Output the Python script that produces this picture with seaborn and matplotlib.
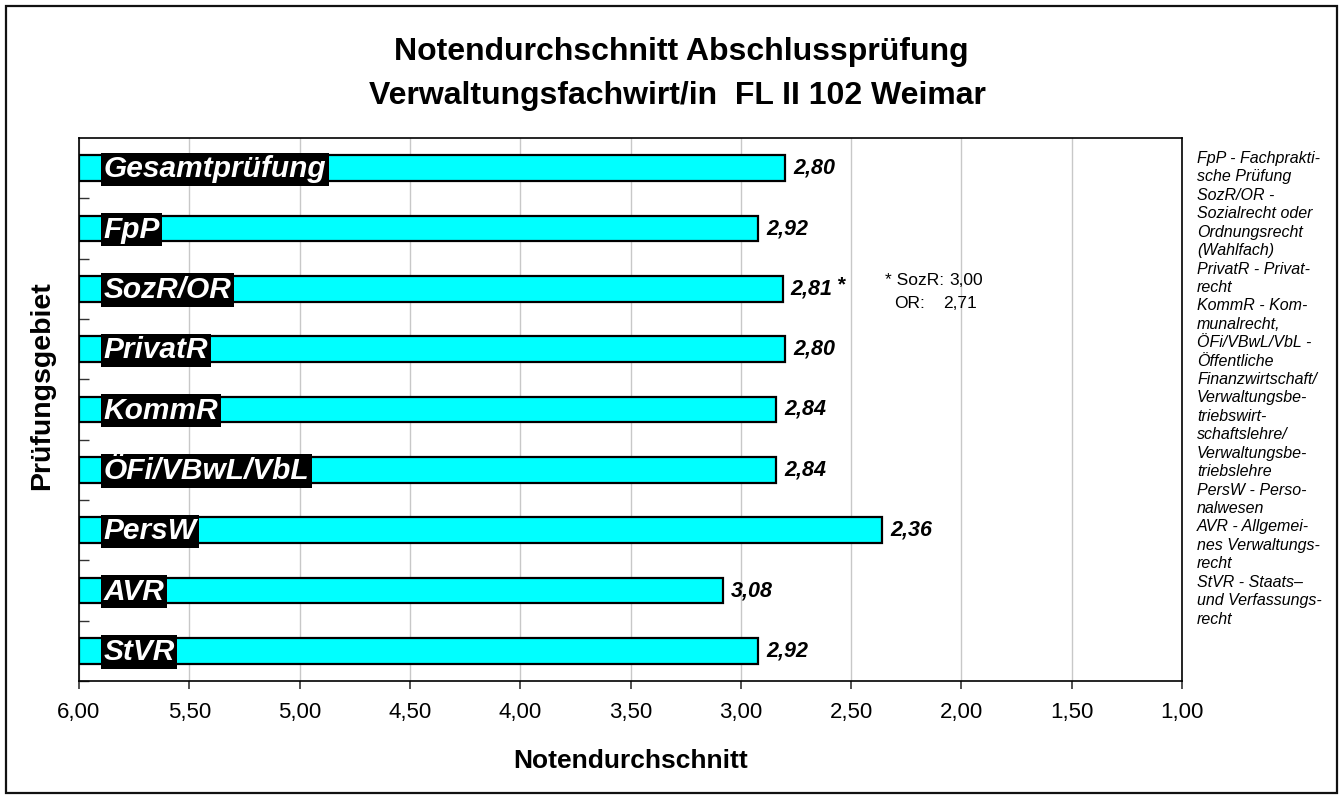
import matplotlib
matplotlib.use("Agg")
import matplotlib.pyplot as plt
import seaborn as sns
import pandas as pd
import numpy as np
from matplotlib.ticker import FixedLocator, FuncFormatter
from matplotlib.patches import Rectangle

# ---------------- data ----------------
categories = ["Gesamtprüfung", "FpP", "SozR/OR", "PrivatR", "KommR",
              "ÖFi/VBwL/VbL", "PersW", "AVR", "StVR"]
values = [2.80, 2.92, 2.81, 2.80, 2.84, 2.84, 2.36, 3.08, 2.92]
baseline = 6.0
x_ticks = [6.0, 5.5, 5.0, 4.5, 4.0, 3.5, 3.0, 2.5, 2.0, 1.5, 1.0]
title_lines = ["Notendurchschnitt Abschlussprüfung",
               "Verwaltungsfachwirt/in  FL II 102 Weimar"]
x_label = "Notendurchschnitt"
y_label = "Prüfungsgebiet"
footnote_key = ["* SozR:", "OR:"]
footnote_val = ["3,00", "2,71"]
notes = ("FpP - Fachprakti-\nsche Prüfung\nSozR/OR -\nSozialrecht oder\nOrdnungsrecht\n(Wahlfach)\n"
         "PrivatR - Privat-\nrecht\nKommR - Kom-\nmunalrecht,\nÖFi/VBwL/VbL -\nÖffentliche\n"
         "Finanzwirtschaft/\nVerwaltungsbe-\ntriebswirt-\nschaftslehre/\nVerwaltungsbe-\ntriebslehre\n"
         "PersW - Perso-\nnalwesen\nAVR - Allgemei-\nnes Verwaltungs-\nrecht\nStVR - Staats–\n"
         "und Verfassungs-\nrecht")

df = pd.DataFrame({"Gebiet": categories, "Note": values})
df["diff"] = df["Note"] - baseline

sns.set_theme(style="white")
plt.rcParams["font.family"] = ["Liberation Sans", "DejaVu Sans"]
plt.rcParams["text.color"] = "black"
plt.rcParams["axes.labelcolor"] = "black"
plt.rcParams["xtick.color"] = "black"
plt.rcParams["ytick.color"] = "black"

W, H = 1344, 798
fig = plt.figure(figsize=(W / 100, H / 100), dpi=100)
fig.patch.set_facecolor("white")
# outer frame
fig.add_artist(Rectangle((6 / W, 5 / H), 1331 / W, 787 / H, transform=fig.transFigure,
                         fill=False, edgecolor="#111111", linewidth=1.6))

ax = fig.add_axes([79 / W, 1 - 681 / H, 1103 / W, 543 / H])

sns.barplot(data=df, x="diff", y="Gebiet", orient="y", ax=ax,
            color="#00FFFF", edgecolor="black", linewidth=1.6,
            width=0.42, left=baseline, saturation=1)

ax.set_xlim(6, 1)
ax.set_ylim(len(categories) - 0.5, -0.5)
ax.xaxis.set_major_locator(FixedLocator(x_ticks))
ax.xaxis.set_major_formatter(FuncFormatter(lambda v, p: f"{v:.2f}".replace(".", ",")))
ax.grid(axis="x", color="#c8c8c8", linewidth=1.0)
ax.set_axisbelow(True)
for s in ax.spines.values():
    s.set_color("black")
    s.set_linewidth(1.2)

ax.tick_params(axis="x", which="major", direction="out", length=6, width=1.2,
               color="#333333", labelsize=16, labelcolor="black", pad=9, bottom=True)
ax.set_yticks([])
ax.yaxis.set_minor_locator(FixedLocator(np.arange(0.5, len(categories), 1.0)))
ax.tick_params(axis="y", which="minor", direction="in", length=7, width=1.0,
               color="#333333", left=True)
ax.set_xlabel("")
ax.set_ylabel("")

# category labels in black boxes
for i, cat in enumerate(categories):
    ax.text(5.89, i + 0.02, cat, color="white", fontsize=21.5, fontweight="bold",
            fontstyle="italic", ha="left", va="center",
            bbox=dict(boxstyle="square,pad=0.09", facecolor="black", edgecolor="none"))

# value labels
for i, v in enumerate(values):
    lbl = f"{v:.2f}".replace(".", ",")
    ax.annotate(lbl, xy=(v, i), xytext=(8, 0), textcoords="offset pixels",
                ha="left", va="center", fontsize=15.5, fontweight="bold",
                fontstyle="italic", color="black")
    if categories[i] == "SozR/OR":
        ax.annotate("*", xy=(v, i), xytext=(53, 4), textcoords="offset pixels",
                    ha="left", va="center", fontsize=15, fontweight="bold",
                    fontstyle="italic", color="black")

# footnote for SozR / OR
sidx = categories.index("SozR/OR")
fs_fn = 12.5
ax.annotate(footnote_key[0], xy=(2.81, sidx), xytext=(102, 8), textcoords="offset pixels",
            ha="left", va="center", fontsize=fs_fn)
ax.annotate(footnote_val[0], xy=(2.81, sidx), xytext=(167, 8), textcoords="offset pixels",
            ha="left", va="center", fontsize=fs_fn)
ax.annotate(footnote_key[1], xy=(2.81, sidx), xytext=(111, -15), textcoords="offset pixels",
            ha="left", va="center", fontsize=fs_fn)
ax.annotate(footnote_val[1], xy=(2.81, sidx), xytext=(160, -15), textcoords="offset pixels",
            ha="left", va="center", fontsize=fs_fn)

# titles and axis labels
fig.text(681 / W, 1 - 52 / H, title_lines[0], ha="center", va="center",
         fontsize=23, fontweight="bold")
fig.text(677 / W, 1 - 96 / H, title_lines[1], ha="center", va="center",
         fontsize=23, fontweight="bold")
fig.text(631 / W, 1 - 761 / H, x_label, ha="center", va="center",
         fontsize=19, fontweight="bold")
fig.text(42 / W, 1 - 386 / H, y_label, ha="center", va="center", rotation=90,
         fontsize=20.5, fontweight="bold")

fig.text(1197 / W, 1 - 151 / H, notes, ha="left", va="top", fontsize=11.5,
         fontstyle="italic", linespacing=1.285)

fig.savefig("out.png", dpi=100, facecolor="white")
